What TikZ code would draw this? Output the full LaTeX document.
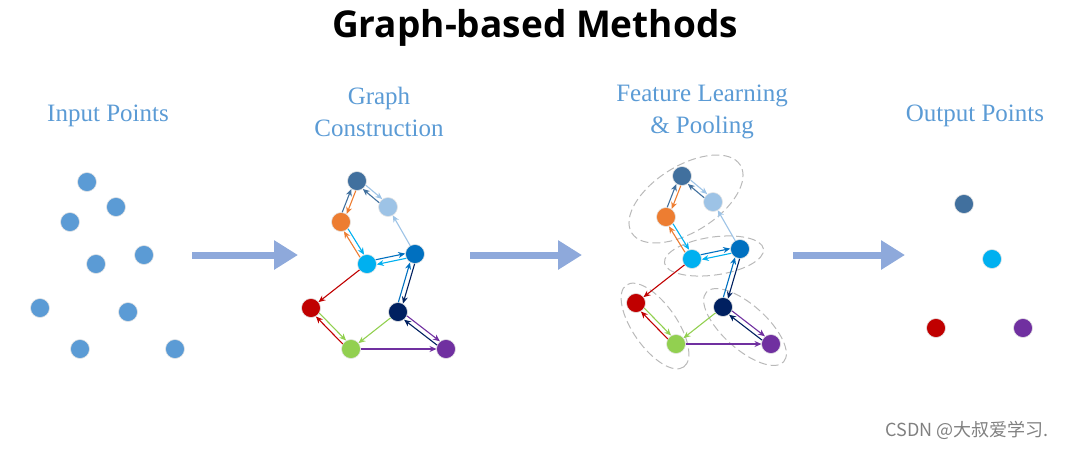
\documentclass[tikz,border=0pt]{standalone}
\usepackage{fontspec}
\setmainfont{Liberation Serif}
\newfontfamily\titlefont{Open Sans}
\newfontfamily\cjk{Noto Sans CJK SC}
\usetikzlibrary{calc,arrows.meta}
\definecolor{cA}{HTML}{41709E}
\definecolor{cB}{HTML}{9DC3E6}
\definecolor{cC}{HTML}{ED7D31}
\definecolor{cD}{HTML}{00B0F0}
\definecolor{cE}{HTML}{0070C0}
\definecolor{cF}{HTML}{C00000}
\definecolor{cG}{HTML}{002060}
\definecolor{cH}{HTML}{92D050}
\definecolor{cI}{HTML}{7030A0}
\definecolor{inpt}{HTML}{5B9BD5}
\definecolor{lab}{HTML}{5B9BD5}
\definecolor{bigar}{HTML}{8EA9DB}
\tikzset{
  pt/.style={circle,minimum size=19pt,inner sep=0pt,draw=white!80!gray,line width=0.6pt,fill=#1},
  lbl/.style={text=lab,font=\fontsize{25}{32}\selectfont,align=center},
  big/.style={-{Triangle[length=24pt,width=28pt]},line width=7pt,draw=bigar},
  ed/.style={-{Stealth[length=7pt,width=6pt]},line width=1.1pt,draw=#1,shorten <=9.5pt,shorten >=9.5pt},
  grp/.style={draw=gray!55,dashed,dash pattern=on 8pt off 4pt,line width=1pt}
}
\newcommand{\dbl}[4]{%
  \draw[ed=#3] ($(#1)!2.4pt!90:(#2)$) -- ($(#2)!2.4pt!-90:(#1)$);
  \draw[ed=#4] ($(#2)!2.4pt!90:(#1)$) -- ($(#1)!2.4pt!-90:(#2)$);}
\newcommand{\sgl}[3]{\draw[ed=#3] (#1.center) -- (#2.center);}
\newcommand{\graphat}[1]{%
\begin{scope}[name prefix=#1-]
  \node[pt=cA] (A) at (0,0) {};
  \node[pt=cB] (B) at (31,26) {};
  \node[pt=cC] (C) at (-16,41) {};
  \node[pt=cD] (D) at (10,83) {};
  \node[pt=cE] (E) at (58,73) {};
  \node[pt=cF] (F) at (-46,127) {};
  \node[pt=cG] (G) at (41,131) {};
  \node[pt=cH] (H) at (-6,168) {};
  \node[pt=cI] (I) at (89,168) {};
  \dbl{A}{B}{cB}{cA}
  \dbl{A}{C}{cC}{cA}
  \dbl{C}{D}{cD}{cC}
  \sgl{E}{B}{cB}
  \dbl{D}{E}{cE}{cD}
  \dbl{E}{G}{cG}{cE}
  \sgl{D}{F}{cF}
  \dbl{F}{H}{cH}{cF}
  \sgl{G}{H}{cH}
  \dbl{G}{I}{cI}{cG}
  \sgl{H}{I}{cI}
\end{scope}}
\begin{document}
\begin{tikzpicture}[x=1pt,y=-1pt]
\useasboundingbox (0,0) rectangle (1066,448);
\node[font=\titlefont\bfseries\fontsize{37}{40}\selectfont] (title) at (535,28) {Graph-based Methods};
\node[lbl] (l1) at (108,116) {Input Points};
\node[lbl] (l2) at (379,112) {Graph\\Construction};
\node[lbl] (l3) at (702,112) {Feature Learning\\\& Pooling};
\node[lbl] (l4) at (975,116) {Output Points};
% input points
\foreach \n/\x/\y in {a/87/182,b/116/207,c/70/222,d/96/264,e/144/255,f/40/308,g/128/312,h/80/349,i/175/349}
  \node[pt=inpt] (in-\n) at (\x,\y) {};
% arrows
\coordinate (a1s) at (192,255); \coordinate (a1e) at (298,255);
\coordinate (a2s) at (470,255); \coordinate (a2e) at (582,255);
\coordinate (a3s) at (793,255); \coordinate (a3e) at (905,255);
\draw[big] (a1s) -- (a1e);
\draw[big] (a2s) -- (a2e);
\draw[big] (a3s) -- (a3e);
% graphs
\begin{scope}[shift={(357,181)}]\graphat{g}\end{scope}
\draw[grp,rotate around={32:(686,199)}] (686,199) ellipse [x radius=64pt,y radius=33pt];
\draw[grp,rotate around={8:(714,256)}] (714,256) ellipse [x radius=50pt,y radius=19pt];
\draw[grp,rotate around={-55:(655,326)}] (655,326) ellipse [x radius=50pt,y radius=22pt];
\draw[grp,rotate around={-42:(745,327)}] (745,327) ellipse [x radius=52pt,y radius=22pt];
\begin{scope}[shift={(682,176)}]\graphat{f}\end{scope}
% output
\node[pt=cA] (o1) at (964,204) {};
\node[pt=cD] (o2) at (992,259) {};
\node[pt=cF] (o3) at (936,328) {};
\node[pt=cI] (o4) at (1023,328) {};
\node[text=gray,anchor=east,font=\fontsize{18}{20}\selectfont\cjk] (wm) at (1052,430) {CSDN @大叔爱学习.};
\end{tikzpicture}
\end{document}
